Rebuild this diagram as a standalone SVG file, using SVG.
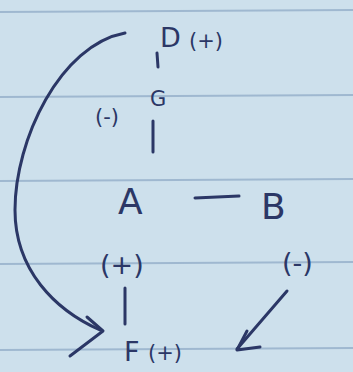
<svg xmlns="http://www.w3.org/2000/svg" width="353" height="372" viewBox="0 0 353 372">
<style>
.ink{fill:none;stroke:#2b3766;stroke-width:3;stroke-linecap:round;stroke-linejoin:round}
.rule{stroke:#9fb8d0;stroke-width:2}
.t{fill:#2b3766;font-family:"DejaVu Sans",sans-serif}
.big{font-size:36px}
.mid{font-size:27px}
.sm{font-size:21px}
</style>
<rect width="353" height="372" fill="#cde0ec"/>
<g id="rules">
<line class="rule" x1="0" y1="12" x2="353" y2="10"/>
<line class="rule" x1="0" y1="97" x2="353" y2="95"/>
<line class="rule" x1="0" y1="181" x2="353" y2="179"/>
<line class="rule" x1="0" y1="264" x2="353" y2="262"/>
<line class="rule" x1="0" y1="350" x2="353" y2="348"/>
</g>
<g id="connectors">
<line class="ink" x1="157" y1="53" x2="158" y2="67"/>
<line class="ink" x1="153" y1="121" x2="153" y2="152"/>
<line class="ink" x1="195" y1="198" x2="239" y2="196"/>
<line class="ink" x1="125" y1="288" x2="125" y2="324"/>
<path class="ink" d="M125,33 C60,45 15,140 15,210 C15,270 55,310 100,330"/>
<path class="ink" d="M87,317 L103,331 L70,356"/>
<line class="ink" x1="287" y1="291" x2="237" y2="349"/>
<path class="ink" d="M247,331 L237,350 L260,347"/>
</g>
<g id="D"><text class="t mid" x="160" y="47">D</text><text class="t sm" x="189" y="48">(+)</text></g>
<g id="G"><text class="t sm" x="150" y="106">G</text><text class="t sm" x="95" y="124">(-)</text></g>
<g id="A"><text class="t big" x="118" y="214">A</text><text class="t mid" x="100" y="274">(+)</text></g>
<g id="B"><text class="t big" x="261" y="219">B</text><text class="t mid" x="282" y="272">(-)</text></g>
<g id="F"><text class="t mid" x="124" y="361">F</text><text class="t sm" x="148" y="360">(+)</text></g>
</svg>
